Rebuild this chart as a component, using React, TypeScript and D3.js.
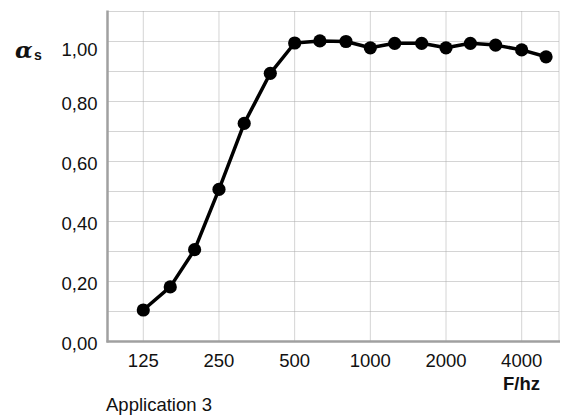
import React from "react";
import * as d3 from "d3";

const freqs = [125, 160, 200, 250, 315, 400, 500, 630, 800, 1000, 1250, 1600, 2000, 2500, 3150, 4000, 5000];
const alphaS = [0.105, 0.182, 0.306, 0.507, 0.727, 0.894, 0.995, 1.002, 1.0, 0.979, 0.994, 0.994, 0.979, 0.994, 0.988, 0.972, 0.949];
const xTicks = [125, 250, 500, 1000, 2000, 4000];
const yTicks = [0, 0.2, 0.4, 0.6, 0.8, 1.0];
const yGrid = [0, 0.1, 0.2, 0.3, 0.4, 0.5, 0.6, 0.7, 0.8, 0.9, 1.0, 1.1];

const W = 565;
const H = 416;
const FONT = "'Liberation Sans', Arial, sans-serif";

export default function App() {
  const left = 107.5, right = 559, top = 11.5, bottom = 341.5;
  const x = d3.scaleLog().base(2)
    .domain([125 * Math.pow(2, -0.473), 4000 * Math.pow(2, 0.493)])
    .range([left, right]);
  const y = d3.scaleLinear().domain([0, 1.1]).range([bottom, top]);
  const line = d3.line<number>().x((_, i) => x(freqs[i])).y((d) => y(d));
  const fmt = (v: number) => v.toFixed(2).replace(".", ",");

  return (
    <svg width={W} height={H} style={{ position: "absolute", left: 0, top: 0 }}>
      <rect width={W} height={H} fill="#fff" />
      {yGrid.map((v) => (
        <line key={"gy" + v} x1={left} x2={right} y1={y(v)} y2={y(v)} stroke="#a8a8a8" strokeWidth={1} strokeDasharray="1,1" />
      ))}
      {xTicks.map((v) => (
        <line key={"gx" + v} x1={x(v)} x2={x(v)} y1={top} y2={bottom} stroke="#a8a8a8" strokeWidth={1} strokeDasharray="1,1" />
      ))}
      <line x1={right} x2={right} y1={top} y2={bottom} stroke="#a8a8a8" strokeWidth={1} strokeDasharray="1,1" />
      <line x1={left} x2={left} y1={top - 1} y2={bottom + 1} stroke="#a0a0a0" strokeWidth={2.5} />
      <line x1={left - 1} x2={right + 1} y1={bottom} y2={bottom} stroke="#a0a0a0" strokeWidth={2.5} />
      {yTicks.map((v) => (
        <text key={"yl" + v} x={97.5} y={y(v) + (v === 1 ? 8.5 : 1.8)} dy="0.35em" textAnchor="end"
          fontFamily={FONT} fontSize={18.5} fill="#111">{fmt(v)}</text>
      ))}
      {xTicks.map((v) => (
        <text key={"xl" + v} x={x(v)} y={367} textAnchor="middle" fontFamily={FONT} fontSize={18.5} fill="#111">{v}</text>
      ))}
      <path d={line(alphaS) || ""} fill="none" stroke="#000" strokeWidth={3.5} strokeLinejoin="round" />
      {alphaS.map((v, i) => (
        <circle key={"p" + i} cx={x(freqs[i])} cy={y(v)} r={6.6} fill="#000" />
      ))}
      <text x={15} y={58} fontFamily="'DejaVu Serif', serif" fontWeight="bold" fontStyle="italic" fontSize={23} fill="#111">α</text>
      <text x={34} y={60} fontFamily={FONT} fontWeight="bold" fontSize={14} fill="#111">s</text>
      <text x={540} y={390} textAnchor="end" fontFamily={FONT} fontWeight="bold" fontSize={18.5} fill="#111">F/hz</text>
      <text x={106} y={411} fontFamily={FONT} fontSize={18.5} fill="#111">Application 3</text>
    </svg>
  );
}
